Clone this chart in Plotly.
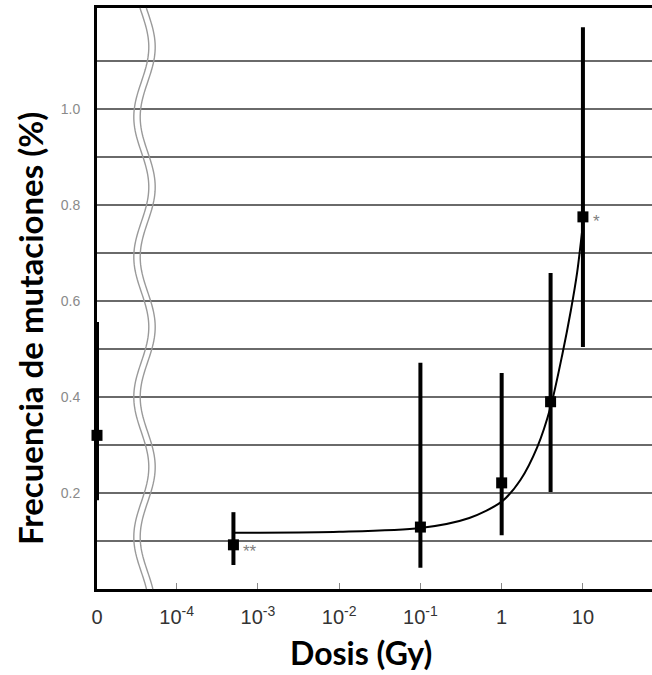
import numpy as np
import plotly.graph_objects as go

# ---- data ----
doses = [0, 5e-4, 0.1, 1, 4, 10]              # Gy (0 = control)
freq = [0.32, 0.092, 0.129, 0.221, 0.39, 0.775]  # mutation frequency (%)
upper = [0.556, 0.16, 0.471, 0.45, 0.658, 1.17]
lower = [0.185, 0.05, 0.044, 0.112, 0.202, 0.504]
marks = ["", "**", "", "", "", "*"]

fit_doses = [5e-4, 1e-3, 1e-2, 0.1, 0.4, 1, 1.7, 2.75, 4, 5.6, 7.1, 8.5, 10]
fit_freq = [0.117, 0.117, 0.119, 0.127, 0.148, 0.182, 0.227, 0.296, 0.379, 0.49, 0.58, 0.66, 0.76]

x_tick_labels = ["0", "10<sup>-4</sup>", "10<sup>-3</sup>", "10<sup>-2</sup>",
                 "10<sup>-1</sup>", "1", "10"]
x_tick_decades = [None, -4, -3, -2, -1, 0, 1]
y_grid = [0.1, 0.2, 0.3, 0.4, 0.5, 0.6, 0.7, 0.8, 0.9, 1.0, 1.1]
y_labels = ["", "0.2", "", "0.4", "", "0.6", "", "0.8", "", "1.0", ""]

# ---- axis layout ----
X_MIN, X_MAX = -4.98, 1.85   # log10 dose; the control (0 Gy) sits at X_MIN
Y_MIN, Y_MAX = 0.0, 1.21

def xpos(d):
    d = np.asarray(d, dtype=float)
    out = np.full(d.shape, X_MIN)
    m = d > 0
    out[m] = np.log10(d[m])
    return out

x_pts = xpos(doses)
y_pts = np.array(freq)
err_plus = np.array(upper) - y_pts
err_minus = y_pts - np.array(lower)

fig = go.Figure()

fig.add_trace(go.Scatter(
    x=xpos(fit_doses), y=fit_freq, mode="lines",
    line=dict(color="black", width=2, shape="spline", smoothing=0.8),
    hoverinfo="skip", showlegend=False,
))

fig.add_trace(go.Scatter(
    x=x_pts, y=y_pts, mode="markers",
    marker=dict(symbol="square", size=11, color="black"),
    error_y=dict(type="data", symmetric=False, array=err_plus, arrayminus=err_minus,
                 color="black", thickness=4, width=0),
    cliponaxis=False, showlegend=False,
))

# significance marks
for xp, yp, m in zip(x_pts, y_pts, marks):
    if m:
        fig.add_annotation(x=xp, y=yp, text=m, showarrow=False, xanchor="left",
                           yanchor="middle", xshift=8, yshift=-7 if len(m) > 1 else -5,
                           font=dict(family="Liberation Sans", size=17, color="#808080"))

# axis break (double wavy line)
W, H = 652, 675
L, R, T, B = 97, 0, 8, 86
pw, ph = W - L - R, H - T - B
ys = np.linspace(T, H - B, 200)
for off in (-3.2, 3.2):
    xs = 144.5 + off - 7.5 * np.cos(2 * np.pi * (ys - 397) / 140)
    px = (xs - L) / pw
    py = 1 - (ys - T) / ph
    path = "M " + " L ".join(f"{a:.5f},{b:.5f}" for a, b in zip(px, py))
    fig.add_shape(type="path", path=path, xref="paper", yref="paper",
                  line=dict(color="#9a9a9a", width=1.4))

tickvals = [X_MIN if d is None else d for d in x_tick_decades]

fig.update_layout(
    width=W, height=H,
    margin=dict(l=L, r=R, t=T, b=B, pad=0),
    paper_bgcolor="white", plot_bgcolor="white",
    xaxis=dict(range=[X_MIN, X_MAX], tickvals=tickvals, ticktext=x_tick_labels,
               showgrid=False, zeroline=False, showline=True, linecolor="black",
               linewidth=3, mirror=True, ticks="inside", ticklen=6, tickwidth=1,
               tickcolor="#888", ticklabelstandoff=8,
               tickfont=dict(family="Liberation Sans", size=20, color="#333")),
    yaxis=dict(range=[Y_MIN, Y_MAX], tickvals=y_grid, ticktext=y_labels,
               showgrid=True, gridcolor="#6a6a6a", gridwidth=2, zeroline=False,
               showline=True, linecolor="black", linewidth=3, ticks="",
               ticklabelstandoff=11,
               tickfont=dict(family="Liberation Sans", size=14, color="#8a8a8a")),
)

fig.add_annotation(text="<b>Frecuencia de mutaciones (%)</b>", xref="paper", yref="paper",
                   x=(30 - L) / pw, y=1 - (329 - T) / ph, textangle=-90, showarrow=False,
                   xanchor="center", yanchor="middle",
                   font=dict(family="Lato", size=33, color="black"))
fig.add_annotation(text="<b>Dosis (Gy)</b>", xref="paper", yref="paper",
                   x=(361 - L) / pw, y=1 - (652 - T) / ph, showarrow=False,
                   xanchor="center", yanchor="middle",
                   font=dict(family="Lato", size=32, color="black"))

fig.write_html("out.html")
